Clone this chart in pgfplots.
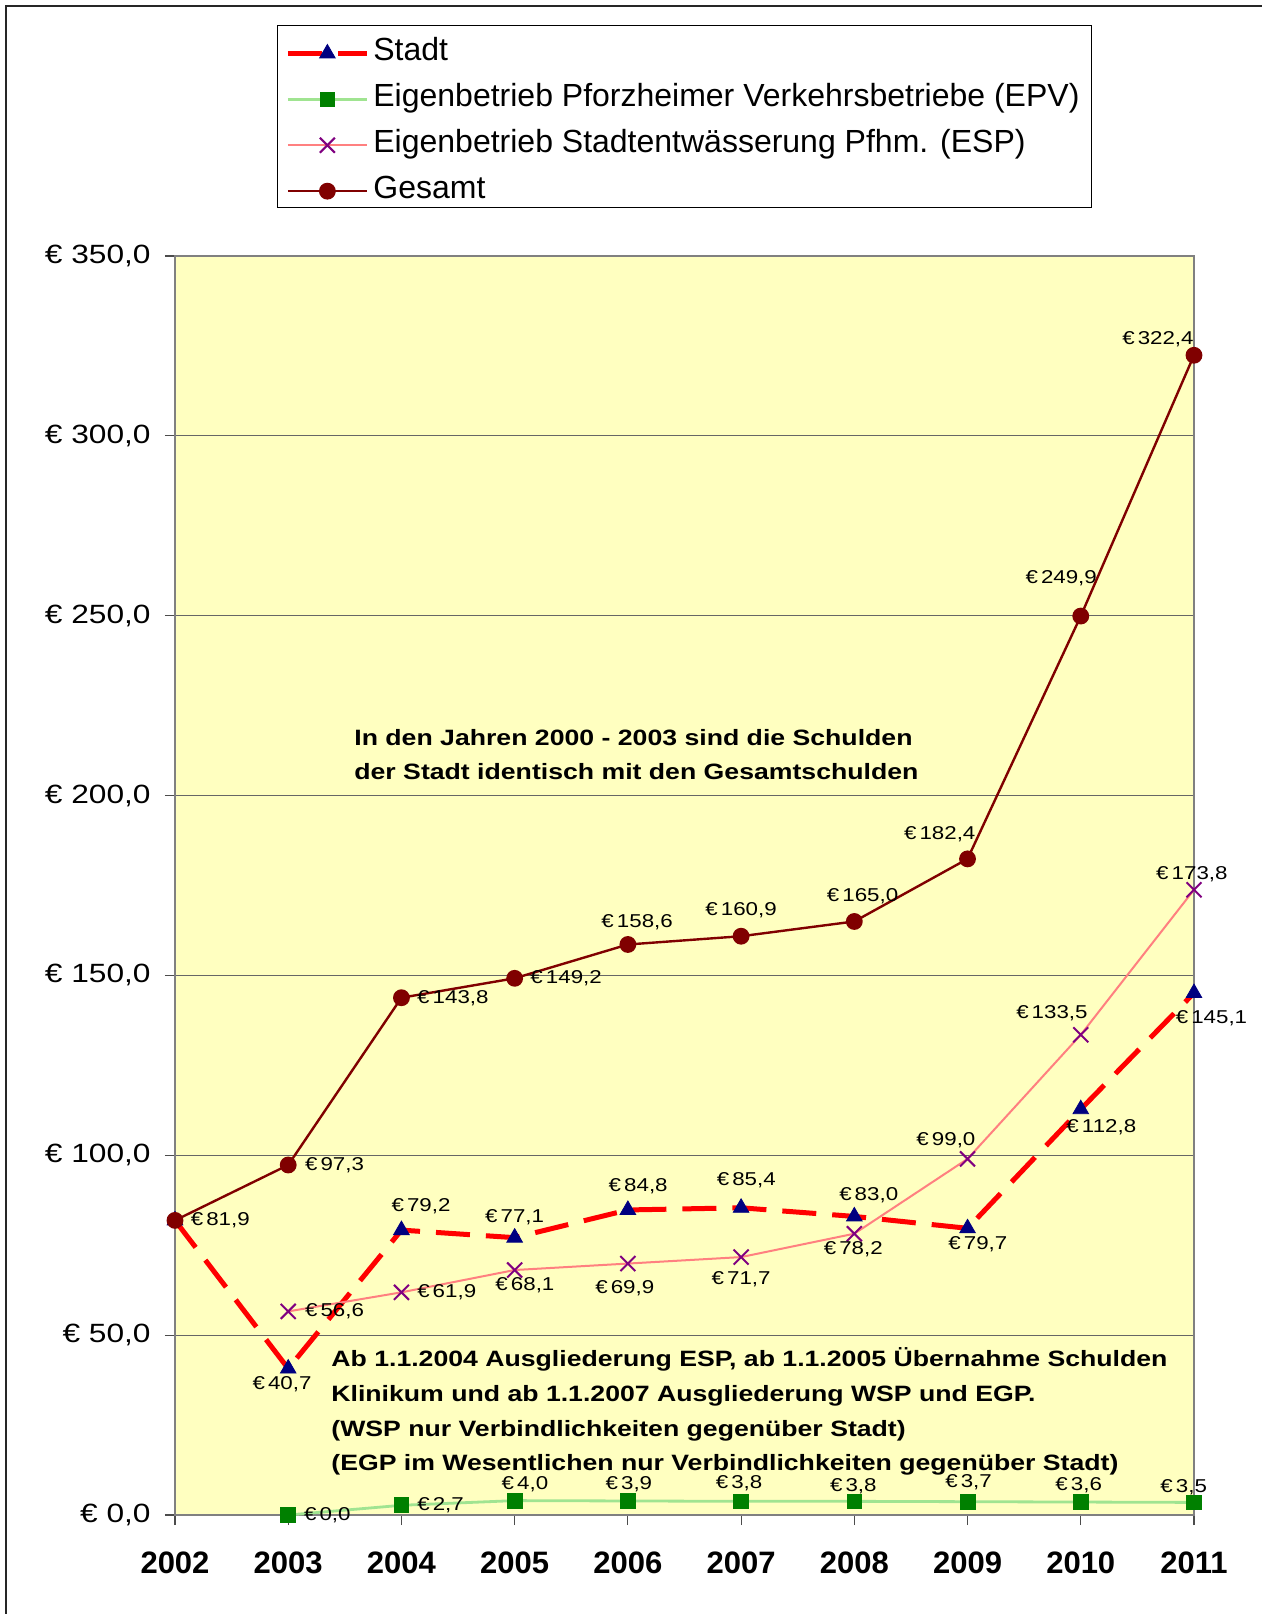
\documentclass[border=0pt]{standalone}
\usepackage{fontspec}
\setmainfont{Liberation Sans}[FakeStretch=1.2]
\newfontfamily\xfont{Liberation Sans}
\usepackage{pgfplots}
\usepackage{pgfplotstable}
\pgfplotsset{compat=1.18}
\definecolor{bgyellow}{RGB}{255,255,192}
\definecolor{stadtred}{RGB}{255,0,0}
\definecolor{navy}{RGB}{0,0,128}
\definecolor{epvline}{RGB}{160,228,145}
\definecolor{epvmark}{RGB}{0,128,0}
\definecolor{espline}{RGB}{255,128,128}
\definecolor{espmark}{RGB}{128,0,128}
\definecolor{gesamtc}{RGB}{128,0,0}
\newcommand\lstrut{\rule[-8.4pt]{0pt}{23pt}}

% x y dx dy  (dx,dy: label offset in px, dy upward)
\pgfplotstableread{
x y dx dy
0 81.9 0 0
1 40.7 -6 -15
2 79.2 19 23
3 77.1 0 20
4 84.8 10 23
5 85.4 5 27
6 83.0 14 21
7 79.7 10 -15
8 112.8 20 -17
9 145.1 17 -24
}\stadt
\pgfplotstableread{
x y dx dy
1 40.7 -6 -15
2 79.2 19 23
3 77.1 0 20
4 84.8 10 23
5 85.4 5 27
6 83.0 14 21
7 79.7 10 -15
8 112.8 20 -17
9 145.1 17 -24
}\stadtlbl
\pgfplotstableread{
x y dx dy
1 0.0 38 0
2 2.7 38 0
3 4.0 10 16
4 3.9 1 16
5 3.8 -2 18
6 3.8 -1 15
7 3.7 1 19
8 3.6 -2 16
9 3.5 -10 15
}\epv
\pgfplotstableread{
x y dx dy
1 56.6 45 0
2 61.9 44 0
3 68.1 10 -15
4 69.9 -3 -24
5 71.7 0 -21
6 78.2 -1 -15
7 99.0 -21 18
8 133.5 -28 21
9 173.8 -2 15
}\esp
\pgfplotstableread{
x y dx dy
0 81.9 44 0
1 97.3 45 0
2 143.8 50 0
3 149.2 50 0
4 158.6 9 22
5 160.9 0 25
6 165.0 8 25
7 182.4 -27 24
8 249.9 -19 37
9 322.4 -35 16
}\gesamt

\pgfplotsset{
  lbl/.style={
    draw=none, mark=none, forget plot,
    visualization depends on={\thisrow{dx}*0.5147 \as \mydx},
    visualization depends on={\thisrow{dy}*0.5147 \as \mydy},
    nodes near coords={€\,\pgfmathprintnumber[fixed,fixed zerofill,precision=1,use comma]{\pgfplotspointmeta}},
    every node near coord/.append style={anchor=center, inner sep=0pt, text=black,
      font=\fontsize{9.3}{11}\selectfont,
      xshift=\mydx pt, yshift=\mydy pt},
  },
  limg/.style={legend image code/.code={
    \draw[mark repeat=2,mark phase=2,##1] plot coordinates {(0pt,-3pt) (19.75pt,-3pt) (39.5pt,-3pt)};}},
}

\begin{document}
\begin{tikzpicture}
\useasboundingbox (0,0) rectangle (631pt,807pt);
\fill[white] (0,0) rectangle (631pt,807pt);
\draw[black!85, line width=1pt] (3pt,0pt) -- (3pt,804pt) -- (631pt,804pt);
\begin{axis}[
  at={(87.5pt,49.5pt)}, anchor=south west,
  scale only axis, width=509.5pt, height=629.5pt,
  xmin=0, xmax=9, ymin=0, ymax=350,
  clip=false,
  axis background/.style={fill=bgyellow},
  axis line style={draw=gray, line width=0.8pt},
  xtick={0,...,9},
  xticklabels={2002,2003,2004,2005,2006,2007,2008,2009,2010,2011},
  ytick={0,50,...,350},
  tick align=outside, tick pos=left,
  major tick length=5pt,
  tick style={black!70, line width=0.6pt},
  ymajorgrids, major grid style={black!60, line width=0.6pt},
  /pgf/number format/assume math mode=true,
  yticklabel={€ \pgfmathprintnumber[fixed,fixed zerofill,precision=1,use comma]{\tick}},
  yticklabel style={font=\fontsize{13.2}{15}\selectfont, inner sep=0pt, anchor=east, xshift=-7pt},
  xticklabel style={font=\xfont\bfseries\fontsize{15.5}{18}\selectfont, inner sep=0pt, anchor=center, yshift=-18.75pt},
  legend style={at={(axis description cs:0.1001,1.1835)}, anchor=north west,
    draw=black, fill=white, font=\xfont\fontsize{16}{23}\selectfont,
    inner xsep=4pt, inner ysep=3pt, row sep=6.85pt, nodes={inner ysep=0pt}},
  legend cell align=left,
]
\addplot[limg, draw=stadtred, line width=2.5pt, dash pattern=on 17pt off 8pt,
  mark=triangle*, mark size=4.5pt, mark options={solid, fill=navy, draw=navy, line width=0.4pt}]
  table[x=x,y=y] {\stadt};
\addlegendentry{\lstrut Stadt}
\addplot[limg, draw=epvline, line width=1.4pt,
  mark=square*, mark size=3.7pt, mark options={fill=epvmark, draw=epvmark, line width=0.4pt}]
  table[x=x,y=y] {\epv};
\addlegendentry{\lstrut Eigenbetrieb Pforzheimer Verkehrsbetriebe (EPV)}
\addplot[limg, draw=espline, line width=1pt,
  mark=x, mark size=5.3pt, mark options={draw=espmark, line width=1pt}]
  table[x=x,y=y] {\esp};
\addlegendentry{\lstrut Eigenbetrieb Stadtentwässerung Pfhm. (ESP)}
\addplot[limg, draw=gesamtc, line width=1.2pt,
  mark=*, mark size=3.6pt, mark options={fill=gesamtc, draw=gesamtc}]
  table[x=x,y=y] {\gesamt};
\addlegendentry{\lstrut Gesamt}
\addplot[lbl] table[x=x,y=y] {\stadtlbl};
\addplot[lbl] table[x=x,y=y] {\epv};
\addplot[lbl] table[x=x,y=y] {\esp};
\addplot[lbl] table[x=x,y=y] {\gesamt};
\end{axis}
\begin{scope}[every node/.style={anchor=west, inner sep=0pt, text height=8pt, text depth=0pt, font=\bfseries\fontsize{11.1}{13}\selectfont}]
\node at (177pt,438pt) {In den Jahren 2000 - 2003 sind die Schulden};
\node at (177pt,421pt) {der Stadt identisch mit den Gesamtschulden};
\node at (165.5pt,127.6pt) {Ab 1.1.2004 Ausgliederung ESP, ab 1.1.2005 Übernahme Schulden};
\node at (165.5pt,110.1pt) {Klinikum und ab 1.1.2007 Ausgliederung WSP und EGP.};
\node at (165.5pt,92.6pt) {(WSP nur Verbindlichkeiten gegenüber Stadt)};
\node at (165.5pt,75.6pt) {(EGP im Wesentlichen nur Verbindlichkeiten gegenüber Stadt)};
\end{scope}
\end{tikzpicture}
\end{document}
